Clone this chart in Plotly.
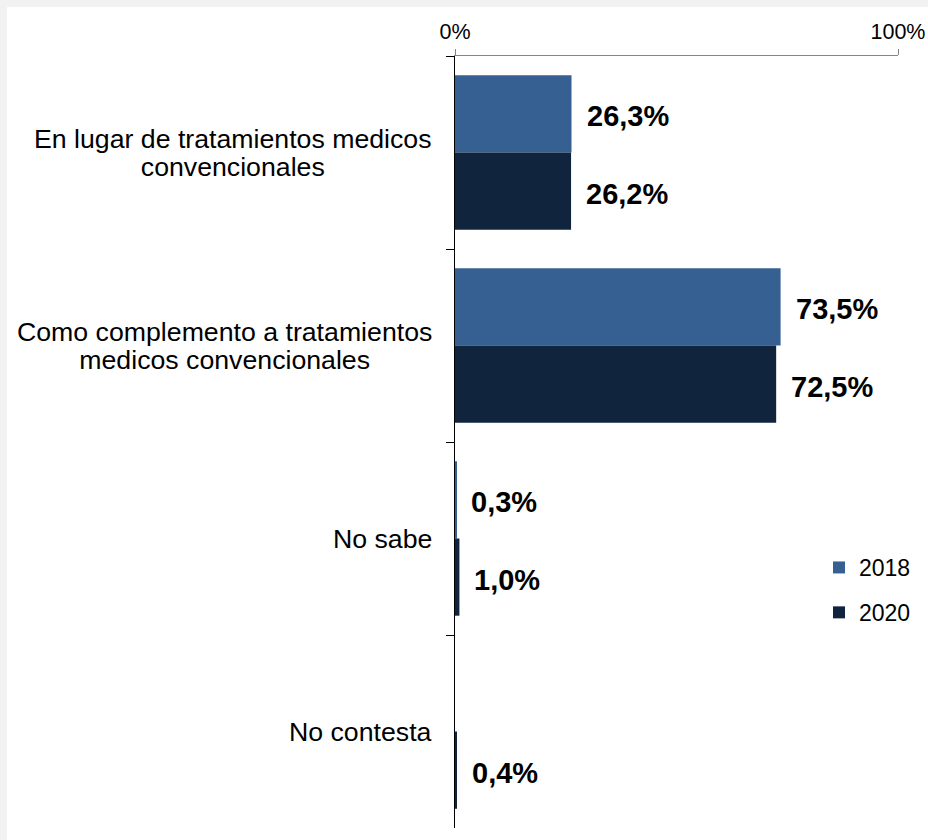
import plotly.graph_objects as go

categories = [
    "En lugar de tratamientos medicos<br>convencionales",
    "Como complemento a tratamientos<br>medicos convencionales",
    "No sabe",
    "No contesta",
]
cat_keys = ["lugar", "complemento", "nosabe", "nocontesta"]
values_2018 = [26.3, 73.5, 0.3, None]
values_2020 = [26.2, 72.5, 1.0, 0.4]
labels_2018 = ["26,3%", "73,5%", "0,3%", None]
labels_2020 = ["26,2%", "72,5%", "1,0%", "0,4%"]
x_tickvals = [0, 100]
x_ticktext = ["0%", "100%"]

C2018 = "#376092"
C2020 = "#10243E"
FONT = "Liberation Sans, Arial, sans-serif"

W, H = 928, 840
ML, MR, MT, MB = 455, 30, 56, 12
PW, PH = W - ML - MR, H - MT - MB

fig = go.Figure()
fig.add_trace(go.Bar(y=cat_keys, x=values_2018, orientation="h", name="2018",
                     legendgroup="a", marker=dict(color=C2018, line=dict(width=0))))
fig.add_trace(go.Bar(y=cat_keys, x=values_2020, orientation="h", name="2020",
                     legendgroup="b", marker=dict(color=C2020, line=dict(width=0))))

band = PH / len(cat_keys)
off = band * 0.8 / 4
LBL = dict(family=FONT, size=29, color="black", weight="bold")
annotations = []
for k, v, t in zip(cat_keys, values_2018, labels_2018):
    if v is not None and t:
        annotations.append(dict(x=v, y=k, xref="x", yref="y", text=t, showarrow=False,
                                xanchor="left", yanchor="middle", xshift=13, yshift=off - 2.5,
                                font=LBL))
for k, v, t in zip(cat_keys, values_2020, labels_2020):
    if v is not None and t:
        annotations.append(dict(x=v, y=k, xref="x", yref="y", text=t, showarrow=False,
                                xanchor="left", yanchor="middle", xshift=13, yshift=-off - 3,
                                font=LBL))
# category labels: tight line spacing (line font 21.5 -> 28px step), glyphs at 26.7px
for k, c in zip(cat_keys, categories):
    txt = "<br>".join(f"<span style='font-size:26.7px'>{ln}</span>" for ln in c.split("<br>"))
    annotations.append(dict(x=0, y=k, xref="paper", yref="y", text=txt, showarrow=False,
                            xanchor="right", yanchor="middle", align="center", xshift=-21,
                            font=dict(family=FONT, size=21.5, color="black")))

shapes = [dict(type="rect", xref="paper", yref="paper", layer="below",
               x0=(7 - ML) / PW, x1=(W - ML) / PW,
               y0=(H - MB - H) / PH, y1=(H - MB - 7) / PH,
               fillcolor="white", line=dict(width=0))]

fig.update_layout(
    width=W, height=H,
    margin=dict(l=ML, r=MR, t=MT, b=MB, pad=0, autoexpand=False),
    paper_bgcolor="#F2F2F2",
    plot_bgcolor="rgba(0,0,0,0)",
    barmode="group", bargap=0.2, bargroupgap=0,
    font=dict(family=FONT, color="black"),
    showlegend=True,
    legend=dict(x=(819 - ML) / PW, xanchor="left", y=(H - MB - 590) / PH, yanchor="middle",
                font=dict(family=FONT, size=23, color="black"),
                bgcolor="rgba(0,0,0,0)", traceorder="grouped", tracegroupgap=12),
    annotations=annotations,
    shapes=shapes,
    xaxis=dict(side="top", range=[0, 100], tickmode="array", tickvals=x_tickvals,
               ticktext=x_ticktext, ticks="outside", ticklen=6, tickcolor="#868686",
               showline=True, linecolor="#868686", linewidth=1, showgrid=False,
               zeroline=False, ticklabelstandoff=1,
               tickfont=dict(family=FONT, size=21.5, color="black")),
    yaxis=dict(type="category", categoryorder="array", categoryarray=cat_keys,
               autorange="reversed", showticklabels=False, ticks="outside", ticklen=8,
               tickson="boundaries", tickcolor="black", showline=True, linecolor="black",
               linewidth=1, showgrid=False, zeroline=False),
)

fig.write_html("out.html", config={"displayModeBar": False},
               post_script="document.body.style.margin='0px';")
